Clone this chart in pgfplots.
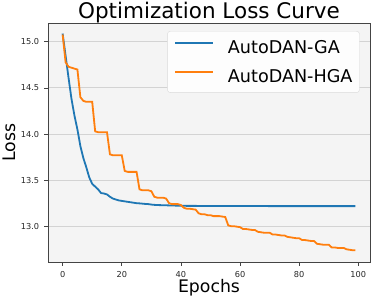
\documentclass[border=0pt]{standalone}
\usepackage{fontspec}
\setmainfont{DejaVu Sans}
\usepackage{pgfplots}
\pgfplotsset{compat=1.18}
\definecolor{tabblue}{HTML}{1F77B4}
\definecolor{taborange}{HTML}{FF7F0E}
\definecolor{bg}{HTML}{F4F4F4}
\definecolor{framec}{HTML}{444444}
\definecolor{gridc}{HTML}{D3D3D3}
\definecolor{tickc}{HTML}{262626}
\definecolor{legc}{HTML}{FDFDFD}
\begin{document}
\begin{tikzpicture}
\useasboundingbox (-48pt,-36pt) rectangle (324pt,262pt);
\begin{axis}[
  at={(0pt,0pt)}, anchor=south west,
  scale only axis, width=322pt, height=239pt,
  xmin=-4.95, xmax=103.95, ymin=12.612, ymax=15.205,
  xtick={0,20,40,60,80,100},
  ytick={13.0,13.5,14.0,14.5,15.0},
  yticklabel style={/pgf/number format/fixed, /pgf/number format/fixed zerofill, /pgf/number format/precision=1, xshift=-1.8pt},
  xticklabel style={yshift=-2pt},
  /pgf/number format/assume math mode=true,
  ticklabel style={font=\fontsize{8.2}{10}\selectfont, text=tickc},
  tick align=outside, xtick pos=bottom, ytick pos=left,
  major tick length=3.5pt,
  tick style={draw=framec, line width=0.8pt},
  axis line style={draw=framec, line width=0.8pt},
  axis background/.style={fill=bg},
  ymajorgrids, grid style={draw=gridc, line width=1pt},
  title={Optimization Loss Curve},
  title style={font=\fontsize{21.5}{24}\selectfont, at={(rel axis cs:0.5,1)}, anchor=base, yshift=-1.2pt, inner sep=0pt},
  xlabel={Epochs},
  xlabel style={font=\fontsize{17.3}{20}\selectfont, at={(rel axis cs:0.5,0)}, anchor=base, yshift=-30.6pt, inner sep=0pt},
  ylabel={Loss},
  every axis y label/.style={font=\fontsize{17.3}{20}\selectfont, at={([xshift=-38.8pt]rel axis cs:0,0.5)}, rotate=90, anchor=center, inner sep=0pt},
  legend style={at={(rel axis cs:0.968,0.9665)}, anchor=north east, draw=black!15, rounded corners=3pt, fill=legc, font=\fontsize{17.6}{21}\selectfont, inner xsep=7pt, inner ysep=9pt, row sep=14.3pt, column sep=13.7pt, nodes={inner sep=0pt}},
  legend cell align=left,
  legend image code/.code={\draw[#1] (2pt,4.5pt) -- (40pt,4.5pt);},
]
\addplot[tabblue, line width=1.8pt] coordinates {
(0,15.09) (1,14.85) (2,14.61) (3,14.38) (4,14.20) (5,14.05) (6,13.87) (7,13.74) (8,13.64) (9,13.53)
(10,13.46) (11,13.43) (12,13.40) (13,13.36) (14,13.355) (15,13.345) (16,13.32) (17,13.30) (18,13.29) (19,13.28)
(20,13.275) (21,13.27) (22,13.265) (23,13.26) (24,13.255) (25,13.25) (26,13.248) (27,13.245) (28,13.242) (29,13.24)
(30,13.235) (31,13.232) (32,13.23) (33,13.229) (34,13.228) (35,13.227) (36,13.226) (37,13.225) (38,13.224) (39,13.223)
(40,13.222) (41,13.222) (42,13.221) (43,13.221) (44,13.221) (45,13.221) (46,13.220) (47,13.220) (48,13.220) (49,13.220)
(50,13.220) (51,13.220) (52,13.220) (53,13.220) (54,13.220) (55,13.219) (56,13.219) (57,13.219) (58,13.219) (59,13.219)
(60,13.219) (61,13.219) (62,13.219) (63,13.219) (64,13.219) (65,13.219) (66,13.219) (67,13.219) (68,13.219) (69,13.219)
(70,13.218) (71,13.218) (72,13.218) (73,13.218) (74,13.218) (75,13.218) (76,13.218) (77,13.218) (78,13.218) (79,13.218)
(80,13.218) (81,13.218) (82,13.218) (83,13.218) (84,13.218) (85,13.218) (86,13.218) (87,13.218) (88,13.218) (89,13.218)
(90,13.218) (91,13.218) (92,13.218) (93,13.218) (94,13.218) (95,13.218) (96,13.218) (97,13.218) (98,13.218) (99,13.218)
};
\addlegendentry{AutoDAN-GA}
\addplot[taborange, line width=1.8pt] coordinates {
(0,15.08) (1,14.78) (2,14.73) (3,14.72) (4,14.71) (5,14.70) (6,14.40) (7,14.36) (8,14.35) (9,14.35)
(10,14.35) (11,14.03) (12,14.02) (13,14.02) (14,14.02) (15,14.02) (16,13.78) (17,13.77) (18,13.77) (19,13.77)
(20,13.77) (21,13.60) (22,13.59) (23,13.59) (24,13.59) (25,13.59) (26,13.40) (27,13.39) (28,13.39) (29,13.39)
(30,13.38) (31,13.32) (32,13.31) (33,13.31) (34,13.31) (35,13.30) (36,13.25) (37,13.24) (38,13.24) (39,13.24)
(40,13.23) (41,13.20) (42,13.19) (43,13.19) (44,13.185) (45,13.18) (46,13.14) (47,13.13) (48,13.13) (49,13.12)
(50,13.12) (51,13.11) (52,13.11) (53,13.11) (54,13.105) (55,13.10) (56,13.01) (57,13.00) (58,13.00) (59,12.995)
(60,12.99) (61,12.97) (62,12.97) (63,12.965) (64,12.96) (65,12.96) (66,12.94) (67,12.935) (68,12.93) (69,12.93)
(70,12.93) (71,12.91) (72,12.91) (73,12.905) (74,12.90) (75,12.90) (76,12.885) (77,12.88) (78,12.875) (79,12.87)
(80,12.87) (81,12.85) (82,12.85) (83,12.845) (84,12.84) (85,12.84) (86,12.81) (87,12.805) (88,12.80) (89,12.80)
(90,12.80) (91,12.77) (92,12.77) (93,12.765) (94,12.765) (95,12.765) (96,12.75) (97,12.745) (98,12.74) (99,12.74)
};
\addlegendentry{AutoDAN-HGA}
\end{axis}
\end{tikzpicture}
\end{document}
